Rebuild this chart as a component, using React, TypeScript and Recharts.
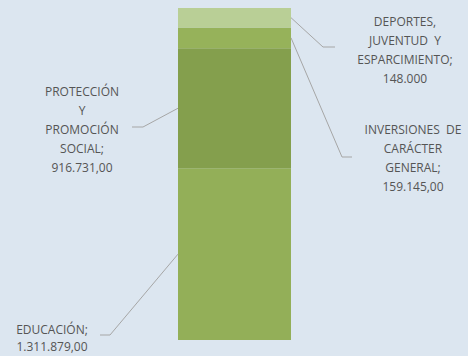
import React from 'react';
import { BarChart, Bar, XAxis, YAxis } from 'recharts';

const categories = ['Total'];
const seriesNames = [
  'EDUCACIÓN',
  'PROTECCIÓN Y PROMOCIÓN SOCIAL',
  'INVERSIONES DE CARÁCTER GENERAL',
  'DEPORTES, JUVENTUD Y ESPARCIMIENTO',
];
const educacion = [1311879];
const proteccion = [916731];
const inversiones = [159145];
const deportes = [148000];
const labelLines = [
  ['EDUCACIÓN;', '1.311.879,00'],
  ['PROTECCIÓN', 'Y', 'PROMOCIÓN', 'SOCIAL;', '916.731,00'],
  ['INVERSIONES  DE', 'CARÁCTER', 'GENERAL;', '159.145,00'],
  ['DEPORTES,', 'JUVENTUD  Y', 'ESPARCIMIENTO;', '148.000'],
];

const keys = ['educacion', 'proteccion', 'inversiones', 'deportes'];
const data = categories.map((c, i) => ({
  name: c,
  educacion: educacion[i],
  proteccion: proteccion[i],
  inversiones: inversiones[i],
  deportes: deportes[i],
}));

const colors = ['#93AF58', '#849F4D', '#96B25A', '#B9CF96'];

// label layout: which side of the bar the leader starts, elbow, end of tick, text centre
const layout = [
  { side: 'left', elbow: [110, 335], end: [100, 335], tx: 52, ty: 334, gap: 17 },
  { side: 'left', elbow: [143, 127], end: [132, 127], tx: 82, ty: 96, gap: 19 },
  { side: 'right', elbow: [342, 157], end: [352, 157], tx: 413, ty: 134, gap: 19 },
  { side: 'right', elbow: [323, 47], end: [335, 47], tx: 405, ty: 26, gap: 19 },
];

const makeLabel = (idx: number) => (props: any) => {
  const { x, y, width, height } = props;
  const cfg = layout[idx];
  const ax = cfg.side === 'left' ? x : x + width;
  const ay = y + height / 2;
  return (
    <g>
      <polyline
        points={`${ax},${ay} ${cfg.elbow[0]},${cfg.elbow[1]} ${cfg.end[0]},${cfg.end[1]}`}
        fill="none"
        stroke="#A6A6A6"
        strokeWidth={1}
      />
      <text
        x={cfg.tx}
        y={cfg.ty}
        textAnchor="middle"
        fill="#555555"
        fontSize={12}
        fontFamily="'Open Sans', sans-serif"
        style={{ whiteSpace: 'pre' }}
      >
        {labelLines[idx].map((t, i) => (
          <tspan key={i} x={cfg.tx} dy={i === 0 ? 0 : cfg.gap}>
            {t}
          </tspan>
        ))}
      </text>
    </g>
  );
};

export default function App() {
  return (
    <div
      style={{
        position: 'absolute',
        left: 0,
        top: 0,
        width: 468,
        height: 356,
        background: '#DCE6F0',
      }}
    >
      <BarChart
        width={468}
        height={356}
        data={data}
        margin={{ top: 8, right: 177, bottom: 16, left: 178 }}
        barCategoryGap={0}
      >
        <XAxis dataKey="name" hide />
        <YAxis hide domain={[0, 'dataMax']} />
        {keys.map((k, i) => (
          <Bar
            key={k}
            dataKey={k}
            name={seriesNames[i]}
            stackId="a"
            fill={colors[i]}
            isAnimationActive={false}
            label={makeLabel(i)}
          />
        ))}
      </BarChart>
    </div>
  );
}
